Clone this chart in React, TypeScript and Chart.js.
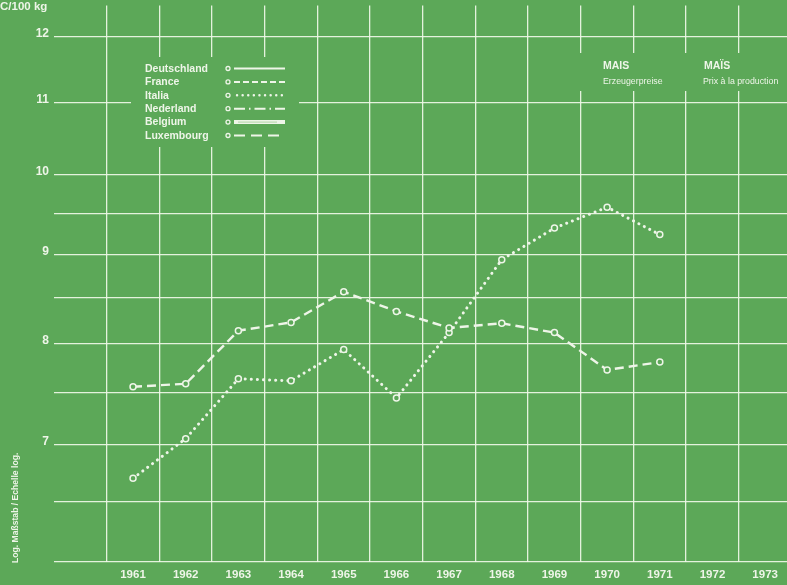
import React, { useEffect, useRef } from "react";
import { Chart, registerables } from "chart.js";

Chart.register(...registerables);

// ---- data ----
const years = ["", "1961", "1962", "1963", "1964", "1965", "1966", "1967", "1968", "1969", "1970", "1971", "1972", "1973"];
const franceValues = [null, 7.56, 7.59, 8.14, 8.23, 8.57, 8.35, 8.17, 8.22, 8.12, 7.73, 7.81, null, null];
const italiaValues = [null, 6.7, 7.06, 7.64, 7.62, 7.94, 7.45, 8.12, 8.94, 9.32, 9.58, 9.24, null, null];
const yGridValues = [6, 6.5, 7, 7.5, 8, 8.5, 9, 9.5, 10, 11, 12];
const yLabelValues = [7, 8, 9, 10, 11, 12];
const legendNames = ["Deutschland", "France", "Italia", "Nederland", "Belgium", "Luxembourg"];
const unitLabel = "C/100 kg";
const scaleNote = "Log. Maßstab / Echelle log.";
const titleDE = ["MAIS", "Erzeugerpreise"];
const titleFR = ["MAÏS", "Prix à la production"];

// ---- styles ----
const BG = "rgb(92,168,88)";
const FG = "rgb(238,245,232)";
const GRID = "rgba(240,248,232,0.92)";
const FONT = "'Liberation Sans', Arial, sans-serif";

const overlayPlugin = {
  id: "overlay",
  beforeDatasetsDraw(chart: any) {
    const ctx = chart.ctx as CanvasRenderingContext2D;
    ctx.save();
    // boxes that hide the grid behind legend and title
    ctx.fillStyle = BG;
    ctx.fillRect(131, 57, 168, 90);
    ctx.fillRect(578, 53, 220, 38);

    ctx.fillStyle = FG;
    ctx.strokeStyle = FG;
    ctx.textBaseline = "middle";
    ctx.textAlign = "left";

    // legend
    const y0 = 68.5;
    const dy = 13.4;
    legendNames.forEach((name, i) => {
      const y = y0 + i * dy;
      ctx.font = `bold 10.5px ${FONT}`;
      ctx.fillStyle = FG;
      ctx.fillText(name, 145, y + 0.5);
      // marker
      ctx.setLineDash([]);
      ctx.lineWidth = 1.3;
      ctx.beginPath();
      ctx.arc(228, y, 2, 0, Math.PI * 2);
      ctx.stroke();
      const xa = 234;
      const xb = 285;
      ctx.lineCap = "butt";
      ctx.lineWidth = 2;
      if (name === "Deutschland") {
        ctx.setLineDash([]);
      } else if (name === "France") {
        ctx.setLineDash([6, 3]);
      } else if (name === "Italia") {
        ctx.setLineDash([0.1, 5.5]);
        ctx.lineCap = "round";
        ctx.lineWidth = 2.4;
      } else if (name === "Nederland") {
        ctx.setLineDash([11, 4, 1.5, 4]);
      } else if (name === "Belgium") {
        ctx.setLineDash([]);
        ctx.lineWidth = 4;
      } else {
        ctx.setLineDash([11, 6]);
      }
      ctx.beginPath();
      ctx.moveTo(name === "Italia" ? xa + 3 : xa, y);
      ctx.lineTo(xb, y);
      ctx.stroke();
      if (name === "Belgium") {
        ctx.strokeStyle = "rgba(150,200,140,0.7)";
        ctx.lineWidth = 1;
        ctx.beginPath();
        ctx.moveTo(xa + 4, y);
        ctx.lineTo(xb - 8, y);
        ctx.stroke();
        ctx.strokeStyle = FG;
      }
    });
    ctx.setLineDash([]);
    ctx.lineCap = "butt";

    // titles
    ctx.fillStyle = FG;
    ctx.font = `bold 10.5px ${FONT}`;
    ctx.fillText(titleDE[0], 603, 66);
    ctx.fillText(titleFR[0], 704, 66);
    ctx.font = `8.8px ${FONT}`;
    ctx.fillText(titleDE[1], 603, 81.5);
    ctx.fillText(titleFR[1], 703, 81.5);

    // unit label
    ctx.font = `bold 11.5px ${FONT}`;
    ctx.fillText(unitLabel, 0, 6.5);

    // rotated note
    ctx.save();
    ctx.translate(15.5, 563);
    ctx.rotate(-Math.PI / 2);
    ctx.font = `bold 8.6px ${FONT}`;
    ctx.textAlign = "left";
    ctx.fillText(scaleNote, 0, 0);
    ctx.restore();

    ctx.restore();
  },
};

export default function App() {
  const ref = useRef<HTMLCanvasElement | null>(null);

  useEffect(() => {
    if (!ref.current) return;
    const chart = new Chart(ref.current, {
      type: "line",
      data: {
        labels: years,
        datasets: [
          {
            label: "France",
            data: franceValues,
            borderColor: FG,
            borderWidth: 2.4,
            borderDash: [9, 5],
            pointRadius: 3,
            pointBorderWidth: 1.5,
            pointBackgroundColor: BG,
            pointBorderColor: FG,
            tension: 0,
            spanGaps: false,
          },
          {
            label: "Italia",
            data: italiaValues,
            borderColor: FG,
            borderWidth: 3,
            borderDash: [0.1, 6],
            borderCapStyle: "round",
            pointRadius: 3,
            pointBorderWidth: 1.5,
            pointBackgroundColor: BG,
            pointBorderColor: FG,
            tension: 0,
            spanGaps: false,
          },
        ],
      },
      options: {
        responsive: false,
        maintainAspectRatio: false,
        animation: false,
        devicePixelRatio: 1,
        layout: { padding: { top: 5, left: 0, right: 0, bottom: 0 } },
        plugins: {
          legend: { display: false },
          tooltip: { enabled: false },
          title: { display: false },
        },
        scales: {
          x: {
            type: "category",
            offset: true,
            grid: {
              offset: true,
              drawTicks: false,
              lineWidth: 1.3,
              color: (c: any) => (c.index === 0 ? "rgba(0,0,0,0)" : GRID),
            },
            border: { display: false },
            ticks: {
              color: FG,
              font: { family: FONT, size: 11.5, weight: "bold" },
              padding: 6,
              autoSkip: false,
              maxRotation: 0,
            },
            afterFit: (s: any) => {
              s.height = 23;
              s.paddingLeft = 0;
              s.paddingRight = 0;
            },
          },
          y: {
            type: "logarithmic",
            min: 6,
            max: 12.5,
            grid: { drawTicks: false, lineWidth: 1.3, color: GRID },
            border: { display: false },
            afterBuildTicks: (s: any) => {
              s.ticks = yGridValues.map((v) => ({ value: v }));
            },
            ticks: {
              color: FG,
              font: { family: FONT, size: 12, weight: "bold" },
              padding: 5,
              labelOffset: -3,
              callback: (v: any) => (yLabelValues.includes(Number(v)) ? String(v) : ""),
            },
            afterFit: (s: any) => {
              s.width = 54;
              s.paddingTop = 0;
              s.paddingBottom = 0;
            },
          },
        },
      },
      plugins: [overlayPlugin],
    } as any);
    return () => chart.destroy();
  }, []);

  return (
    <div
      style={{
        position: "fixed",
        left: 0,
        top: 0,
        width: 787,
        height: 585,
        overflow: "hidden",
        background: BG,
      }}
    >
      <canvas ref={ref} width={797} height={585} style={{ display: "block" }} />
    </div>
  );
}
